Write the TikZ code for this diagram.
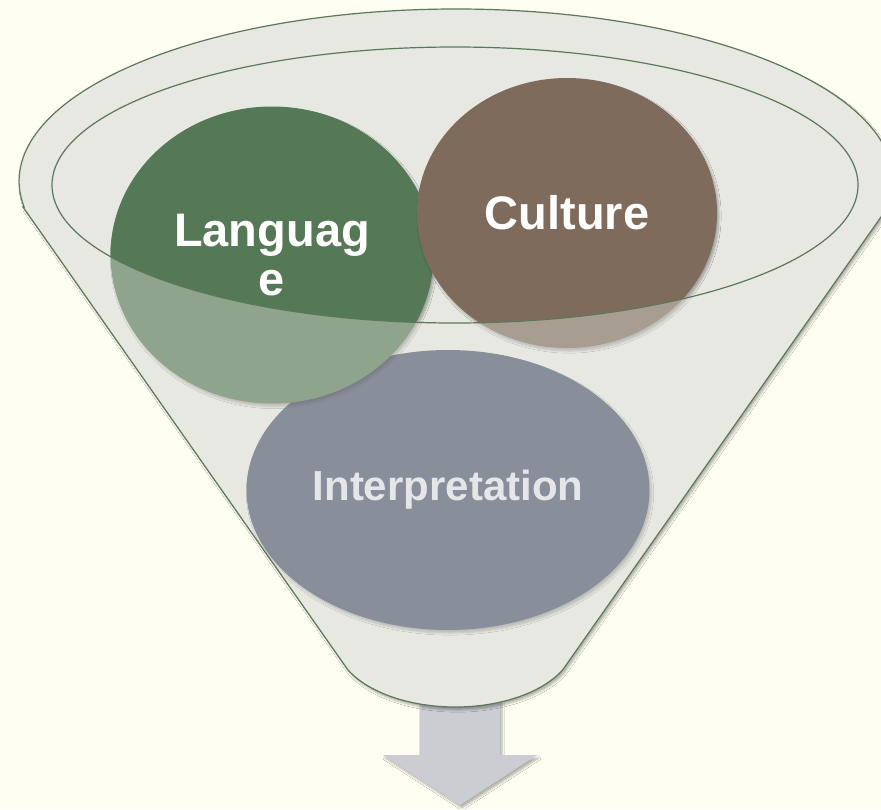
\documentclass[tikz,border=0pt]{standalone}
\usepackage{fontspec}
\setmainfont{Liberation Sans}
\usepackage{xcolor}
\usetikzlibrary{positioning, shapes.geometric, shadows.blur}
\definecolor{paper}{RGB}{254,254,242}
\definecolor{glass}{RGB}{231,232,225}
\definecolor{rimgreen}{RGB}{92,120,90}
\definecolor{langgreen}{RGB}{85,120,86}
\definecolor{cultbrown}{RGB}{127,107,92}
\definecolor{interpgray}{RGB}{73,82,108}
\definecolor{interptext}{RGB}{229,229,240}
\definecolor{arrowgray}{RGB}{203,205,211}
\tikzset{
    softshadow/.style={blur shadow={shadow xshift=2pt, shadow yshift=-3pt, shadow opacity=30, shadow blur steps=6}},
}
\tikzstyle{bubble} = [ellipse, inner sep=0pt, text=white, align=center, softshadow, font=\bfseries\fontsize{47}{49}\selectfont]
\tikzstyle{rim} = [draw=rimgreen, line width=1.2pt]
\def\funnelpath{(23,207) -- (348,670) arc[start angle=153.4, end angle=26.6, x radius=120, y radius=67] -- (888,207) arc[start angle=8.7, end angle=-188.7, x radius=437, y radius=172] -- cycle}

\begin{document}
\begin{tikzpicture}[x=1pt, y=-1pt]
        \useasboundingbox (0,0) rectangle (881,809);
        \fill[paper] (0,0) rectangle (881,809);

        % Arrow out of the funnel
        \coordinate (spout) at (460,700);
        \fill[arrowgray, softshadow] (spout) ++(-40,0) -- ++(80,0) -- ++(0,55) -- ++(37,0) -- (460,805) -- (383,755) -- ++(37,0) -- cycle;

        % Funnel
        \path[fill=glass, softshadow] \funnelpath;

        % Nodes
        \node (interp) [bubble, fill=interpgray, text=interptext, minimum width=403pt, minimum height=280pt, font=\bfseries\fontsize{42}{44}\selectfont] at (448,490) {Interpretation};
        \node (lang) [bubble, fill=langgreen, minimum width=323pt, minimum height=297pt] at (272,255) {Languag\\e};
        \node (cult) [bubble, fill=cultbrown, minimum width=300pt, minimum height=270pt] at (567,213) {Culture};

        % Front wall of the funnel
        \fill[glass, fill opacity=0.4, even odd rule] \funnelpath (455,185) ellipse[x radius=403, y radius=138];
        \draw[rim] \funnelpath;
        \draw[rim] (455,185) ellipse[x radius=403, y radius=138];
    \end{tikzpicture}
\end{document}
